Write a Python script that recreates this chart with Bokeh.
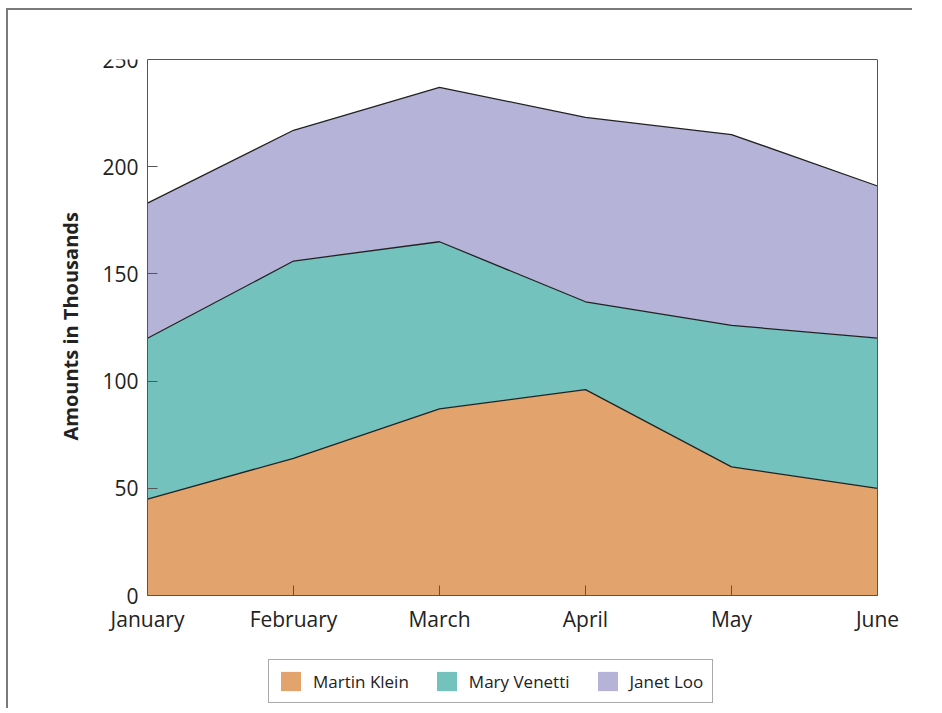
from bokeh.plotting import figure
from bokeh.models import (ColumnDataSource, Legend, LegendItem, FixedTicker,
                          Range1d, LinearAxis, Title)
from bokeh.transform import stack
from bokeh.embed import file_html
from bokeh.resources import INLINE

months = ["January", "February", "March", "April", "May", "June"]
martin_klein = [45, 64, 87, 96, 60, 50]
mary_venetti = [75, 92, 78, 41, 66, 70]
janet_loo = [63, 61, 72, 86, 89, 71]
series_names = ["Martin Klein", "Mary Venetti", "Janet Loo"]
y_ticks = [0, 50, 100, 150, 200, 250]
colors = ["#E2A46C", "#73C2BD", "#B5B3D8"]

FONT = "Open Sans"
AXIS_COLOR = "#555555"

# layout (pixels): data box is 730 x 536; the frame is larger so that the
# month labels and legend (drawn inside it) are not clipped
DATA_W, DATA_H = 730, 536
FRAME_L, FRAME_R = 84, 910          # frame edges on the page
BOX_L, BOX_R = 147, 877             # data box edges on the page
FRAME_H = 649
Y_MAX = 250
N = len(months) - 1
px_per_x = DATA_W / N
x_start = -(BOX_L - FRAME_L) / px_per_x
x_end = N + (FRAME_R - BOX_R) / px_per_x
y_min = Y_MAX - FRAME_H * Y_MAX / DATA_H

x = list(range(len(months)))
source = ColumnDataSource(dict(x=x, martin=martin_klein, mary=mary_venetti, janet=janet_loo))
stackers = ["martin", "mary", "janet"]

p = figure(frame_width=FRAME_R - FRAME_L, frame_height=FRAME_H, output_backend="svg",
           toolbar_location=None,
           x_range=Range1d(x_start, x_end), y_range=Range1d(y_min, Y_MAX),
           min_border_left=FRAME_L - 8, min_border_right=2, min_border_top=49,
           min_border_bottom=0)
p.margin = (8, 0, 0, 6)
p.styles = {"border-top": "2px solid #7a7a7a", "border-left": "2px solid #7a7a7a"}

areas = p.varea_stack(stackers=stackers, x="x", color=colors, source=source)
for i in range(len(stackers)):
    p.line(x="x", y=stack(*stackers[:i + 1]), source=source,
           line_color="#222222", line_width=1.3)

p.grid.visible = False
p.outline_line_color = None

xaxis = p.xaxis[0]
yaxis = p.yaxis[0]
xaxis.fixed_location = 0
xaxis.bounds = (0, N)
xaxis.ticker = FixedTicker(ticks=x)
xaxis.major_label_overrides = {i: m for i, m in enumerate(months)}
yaxis.fixed_location = 0
yaxis.bounds = (0, Y_MAX)
yaxis.ticker = FixedTicker(ticks=y_ticks)

for ax in (xaxis, yaxis):
    ax.axis_line_color = AXIS_COLOR
    ax.major_tick_line_color = AXIS_COLOR
    ax.major_tick_in = 10
    ax.major_tick_out = 0
    ax.minor_tick_line_color = None
    ax.major_label_text_font = FONT
    ax.major_label_text_font_size = "21px"
    ax.major_label_text_color = "#222222"
    ax.major_label_standoff = 9

# top and right edges of the plot box
top_axis = LinearAxis(ticker=FixedTicker(ticks=[]), axis_line_color=AXIS_COLOR,
                      major_tick_line_color=None, minor_tick_line_color=None,
                      bounds=(0, N))
right_axis = LinearAxis(ticker=FixedTicker(ticks=[]), axis_line_color=AXIS_COLOR,
                        major_tick_line_color=None, minor_tick_line_color=None,
                        bounds=(0, Y_MAX), fixed_location=N)
p.add_layout(top_axis, "above")
p.add_layout(right_axis, "right")

# y-axis title, placed beside the 0..250 span
ytitle = Title(text="Amounts in Thousands", align="left", offset=268,
               vertical_align="middle", standoff=0,
               text_font=FONT, text_font_style="bold", text_font_size="20px",
               text_color="#222222")
p.add_layout(ytitle, "left")
p.left = [ytitle, yaxis]

items = [LegendItem(label=n, renderers=[r]) for n, r in zip(series_names, areas)]
legend = Legend(items=items, orientation="horizontal", location=(268 - FRAME_L, 5),
                glyph_width=25, glyph_height=24, label_standoff=10, spacing=25,
                padding=9, margin=0,
                border_line_color=AXIS_COLOR, border_line_width=1,
                background_fill_color="white",
                label_text_font=FONT, label_text_font_size="17px",
                label_text_color="#222222")
p.add_layout(legend, "center")

open("out.html", "w").write(file_html(p, INLINE))
